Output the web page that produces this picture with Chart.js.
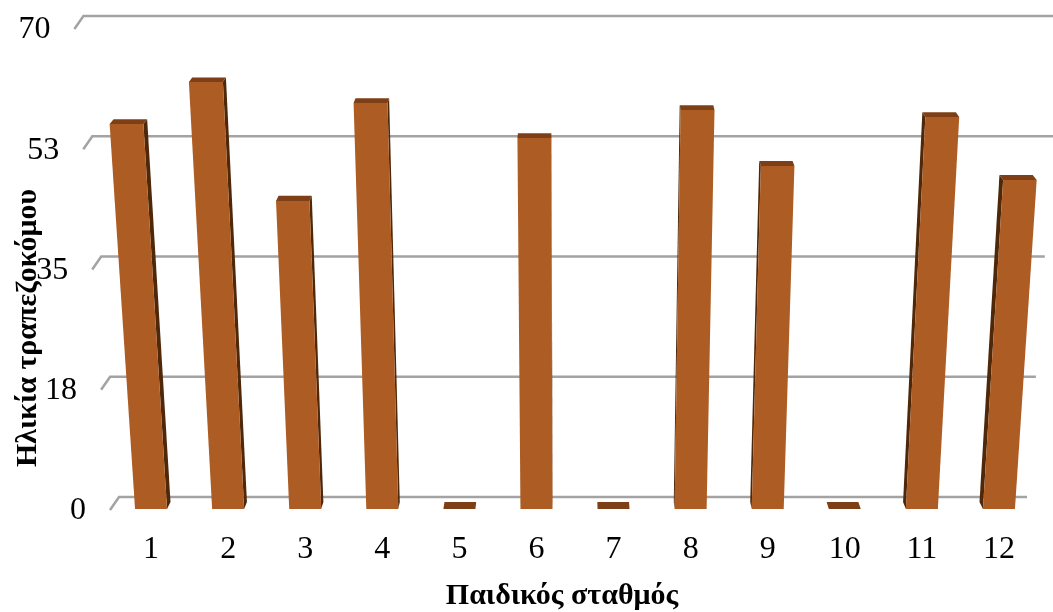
<!DOCTYPE html>
<html>
<head>
<meta charset="utf-8">
<style>
  html, body { margin: 0; padding: 0; background: #ffffff; }
  #wrap { width: 1053px; height: 612px; }
</style>
<script src="https://cdn.jsdelivr.net/npm/chart.js@4.4.1/dist/chart.umd.min.js"></script>
</head>
<body>
<div id="wrap"><canvas id="chart" width="1053" height="612"></canvas></div>
<script>
// Categories (kindergartens) and waiter ages
const categories = ['1', '2', '3', '4', '5', '6', '7', '8', '9', '10', '11', '12'];
const ages = [55, 61, 44, 58, 0, 53, 0, 57, 49, 0, 56, 47];

// Value axis: ticks every 17.5, printed rounded
const yTickValues = [0, 17.5, 35, 52.5, 70];
const yTickLabels = ['0', '18', '35', '53', '70'];

const xTitle = 'Παιδικός σταθμός';
const yTitle = 'Ηλικία τραπεζοκόμου';

// Pseudo-3D projection settings
const P = {
  cx: 575,          // horizontal vanishing centre
  lean: 0.00015,    // outward lean of bar verticals per pixel of height
  wallLean: 0.00016,// outward lean of the back wall edges
  wallShift: -2,    // horizontal offset of the back wall
  depthKx: 0.0085,  // bar depth shrink factor (horizontal)
  depthKy: 0.0058,  // bar depth shrink factor (vertical)
  horizon: -700,    // vertical vanishing line for bar depth
  wallK: 0.0184,    // back wall shrink factor
  wallH: -144,      // vertical vanishing line for back wall
  stubDx: -9, stubDy: 13
};

const COLORS = {
  front: '#ad5c24',
  top: '#7f3f16',
  side: '#4f2709',
  grid: '#a3a3a3',
  text: '#000000'
};

const SERIF = '"Liberation Serif", "Times New Roman", serif';

function leanX(x, yBase, y, k) {
  return x + (k === undefined ? P.lean : k) * (x - P.cx) * (yBase - y);
}
function backOf(p) {
  return {
    x: P.cx + (p.x - P.cx) * (1 - P.depthKx),
    y: P.horizon + (p.y - P.horizon) * (1 - P.depthKy)
  };
}
function wallOf(p) {
  const f = 1 - P.wallK;
  return { x: P.cx + (p.x - P.cx) * f + P.wallShift, y: P.wallH + (p.y - P.wallH) * f };
}
function quad(ctx, pts, fill) {
  ctx.beginPath();
  ctx.moveTo(pts[0].x, pts[0].y);
  for (let i = 1; i < pts.length; i++) ctx.lineTo(pts[i].x, pts[i].y);
  ctx.closePath();
  ctx.fillStyle = fill;
  ctx.fill();
}

const wallPlugin = {
  id: 'wall3d',
  beforeDatasetsDraw(chart) {
    const ctx = chart.ctx;
    const area = chart.chartArea;
    const ys = chart.scales.y;
    const yb = ys.getPixelForValue(0);
    ctx.save();
    ctx.strokeStyle = COLORS.grid;
    ctx.lineWidth = 2.5;
    ctx.lineCap = 'butt';
    yTickValues.forEach((v, i) => {
      const yf = ys.getPixelForValue(v);
      const L = wallOf({ x: leanX(area.left, yb, yf, P.wallLean), y: yf });
      const R = wallOf({ x: leanX(area.right, yb, yf, P.wallLean), y: yf });
      const S = { x: L.x + P.stubDx, y: L.y + P.stubDy };
      ctx.beginPath();
      ctx.moveTo(S.x, S.y);
      ctx.lineTo(L.x, L.y);
      ctx.lineTo(R.x, R.y);
      ctx.stroke();
      ctx.fillStyle = COLORS.text;
      ctx.font = '32px ' + SERIF;
      ctx.textAlign = 'right';
      ctx.textBaseline = 'middle';
      ctx.fillText(yTickLabels[i], S.x - 24, S.y + 1);
    });
    ctx.restore();
  },
  afterDatasetsDraw(chart) {
    const ctx = chart.ctx;
    const meta = chart.getDatasetMeta(0);
    ctx.save();
    meta.data.forEach((bar) => {
      const props = bar.getProps(['x', 'y', 'base', 'width'], true);
      const xL = props.x - props.width / 2;
      const xR = props.x + props.width / 2;
      const yb = props.base;
      const yt = props.y;
      const BL = { x: xL, y: yb }, BR = { x: xR, y: yb };
      const TL = { x: leanX(xL, yb, yt), y: yt };
      const TR = { x: leanX(xR, yb, yt), y: yt };
      if (props.x < P.cx) {
        quad(ctx, [TR, BR, backOf(BR), backOf(TR)], COLORS.side);
      } else {
        quad(ctx, [TL, BL, backOf(BL), backOf(TL)], COLORS.side);
      }
      quad(ctx, [TL, TR, backOf(TR), backOf(TL)], COLORS.top);
      if (yb - yt > 0.5) {
        quad(ctx, [BL, BR, TR, TL], COLORS.front);
      }
    });
    ctx.restore();
  },
  afterDraw(chart) {
    const ctx = chart.ctx;
    const xs = chart.scales.x;
    const area = chart.chartArea;
    ctx.save();
    ctx.fillStyle = COLORS.text;
    ctx.font = '32px ' + SERIF;
    ctx.textAlign = 'center';
    ctx.textBaseline = 'middle';
    categories.forEach((c, i) => {
      ctx.fillText(c, xs.getPixelForValue(i), area.bottom + 41);
    });
    ctx.font = 'bold 30px ' + SERIF;
    ctx.fillText(xTitle, 562, 596);
    ctx.translate(28, 328);
    ctx.rotate(-Math.PI / 2);
    ctx.fillText(yTitle, 0, 0);
    ctx.restore();
  }
};

new Chart(document.getElementById('chart'), {
  type: 'bar',
  data: {
    labels: categories,
    datasets: [{
      label: yTitle,
      data: ages,
      backgroundColor: 'rgba(0,0,0,0)',
      borderWidth: 0,
      barPercentage: 0.415,
      categoryPercentage: 1.0
    }]
  },
  options: {
    responsive: false,
    animation: false,
    layout: { padding: { left: 112.5, right: 15.5, top: 19, bottom: 103 } },
    plugins: { legend: { display: false }, tooltip: { enabled: false } },
    scales: {
      x: { display: false },
      y: { display: false, min: 0, max: 70, ticks: { stepSize: 17.5 } }
    }
  },
  plugins: [wallPlugin]
});
</script>
</body>
</html>
